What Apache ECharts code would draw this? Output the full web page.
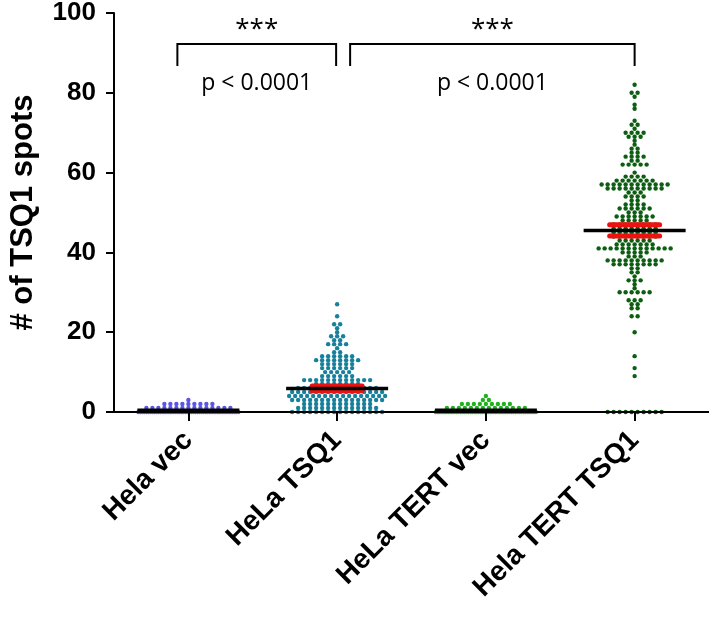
<!DOCTYPE html>
<html>
<head>
<meta charset="utf-8">
<script src="https://cdn.jsdelivr.net/npm/echarts@6/dist/echarts.min.js"></script>
<style>
  html, body { margin: 0; padding: 0; background: #fff; }
  #chart { width: 709px; height: 621px; }
</style>
</head>
<body>
<div id="chart"></div>
<script>
// groups on the x axis
const groups = ['Hela vec', 'HeLa TSQ1', 'HeLa TERT vec', 'Hela TERT TSQ1'];
const groupColors = ['#5a55e8', '#19809c', '#1fb21f', '#0d5e12'];

// spots per cell, kept as value -> number of cells with that value
const helaVecValues = [0, 1, 2, 3];
const helaVecCounts = [50, 15, 9, 1];

const helaTsq1Values = [0, 1, 2, 3, 4, 5, 6, 7, 8, 9, 10, 11, 12, 13, 14, 15, 16, 17, 18, 19, 20, 21, 22, 24, 27];
const helaTsq1Counts = [16, 14, 12, 16, 17, 16, 14, 8, 12, 6, 5, 6, 6, 8, 6, 2, 1, 4, 2, 3, 1, 1, 2, 1, 1];

const tertVecValues = [0, 1, 2, 3, 4];
const tertVecCounts = [50, 14, 9, 2, 1];

const tertTsq1Values = [0, 9, 11, 14, 20, 24, 26, 27, 28, 30, 31, 32, 33, 34, 35, 36, 37, 38, 39, 40,
  41, 42, 43, 44, 45, 46, 47, 48, 49, 50, 51, 52, 53, 54, 55, 56, 57, 58, 59, 60,
  62, 63, 64, 65, 66, 67, 68, 69, 70, 71, 72, 73, 76, 77, 79, 80, 82];
const tertTsq1Counts = [10, 1, 1, 1, 1, 2, 2, 2, 3, 6, 1, 1, 3, 1, 2, 2, 8, 10, 3, 5,
  13, 7, 6, 8, 8, 8, 8, 5, 7, 3, 6, 4, 2, 4, 3, 10, 12, 7, 4, 1,
  5, 2, 4, 2, 2, 1, 1, 3, 4, 1, 2, 1, 1, 1, 1, 2, 1];

// mean and SEM per group
const means = [0.45, 5.9, 0.45, 45.5];
const sems = [0, 0.6, 0, 1.4];

// significance brackets: from group, to group, label
const bracketFrom = [0, 1];
const bracketTo = [1, 3];
const bracketStars = ['***', '***'];
const bracketP = ['p < 0.0001', 'p < 0.0001'];

const yTicks = [0, 20, 40, 60, 80, 100];

const groupValues = [helaVecValues, helaTsq1Values, tertVecValues, tertTsq1Values];
const groupCounts = [helaVecCounts, helaTsq1Counts, tertVecCounts, tertTsq1Counts];

// scatter layout: each value is one row, dots side by side, row at most 100px wide
const DOT_GAP = 6;
const ROW_MAX = 100;
function swarm(gi) {
  const out = [];
  groupValues[gi].forEach((v, k) => {
    const n = groupCounts[gi][k];
    const gap = n > 1 ? Math.min(DOT_GAP, ROW_MAX / (n - 1)) : 0;
    for (let i = 0; i < n; i++) {
      out.push([gi, v, (i - (n - 1) / 2) * gap]);
    }
  });
  return out;
}

const chart = echarts.init(document.getElementById('chart'));

const dotSeries = groups.map((g, gi) => ({
  type: 'custom',
  name: g,
  data: swarm(gi),
  encode: { x: 0, y: 1 },
  z: 2,
  renderItem: function (params, api) {
    const p = api.coord([api.value(0), api.value(1)]);
    return {
      type: 'circle',
      shape: { cx: p[0] + api.value(2), cy: p[1], r: 2.2 },
      style: { fill: groupColors[gi] }
    };
  }
}));

const option = {
  backgroundColor: '#fff',
  animation: false,
  grid: { left: 108, right: -2, top: 13, bottom: 209, containLabel: false },
  xAxis: {
    type: 'category',
    data: groups,
    z: 5,
    axisLine: { show: true, lineStyle: { color: '#000', width: 2 } },
    axisTick: { show: true, alignWithLabel: true, length: 9, lineStyle: { color: '#000', width: 2 } },
    axisLabel: {
      interval: 0,
      rotate: 45,
      margin: 24,
      color: '#000',
      fontFamily: 'Liberation Sans, Arial',
      fontWeight: 'bold',
      fontSize: 28
    },
    splitLine: { show: false }
  },
  yAxis: {
    type: 'value',
    min: yTicks[0],
    max: yTicks[yTicks.length - 1],
    interval: 20,
    z: 5,
    name: '# of TSQ1 spots',
    nameLocation: 'middle',
    nameGap: 75,
    nameTextStyle: {
      color: '#000',
      fontFamily: 'Liberation Sans, Arial',
      fontWeight: 'bold',
      fontSize: 31
    },
    axisLine: { show: true, lineStyle: { color: '#000', width: 2 } },
    axisTick: { show: true, length: 8, lineStyle: { color: '#000', width: 2 } },
    axisLabel: {
      margin: 18,
      color: '#000',
      fontFamily: 'Liberation Sans, Arial',
      fontWeight: 'bold',
      fontSize: 26
    },
    splitLine: { show: false }
  },
  series: dotSeries.concat([
    {
      // mean line with SEM caps
      type: 'custom',
      data: means.map((m, i) => [i, m, sems[i]]),
      encode: { x: 0, y: 1 },
      z: 3,
      renderItem: function (params, api) {
        const x = api.value(0), m = api.value(1), s = api.value(2);
        const c = api.coord([x, m]);
        const kids = [];
        if (s > 0) {
          [m + s, m - s].forEach(v => {
            const q = api.coord([x, v]);
            kids.push({
              type: 'line',
              shape: { x1: q[0] - 25, y1: q[1], x2: q[0] + 25, y2: q[1] },
              style: { stroke: '#ee1111', lineWidth: 5, lineCap: 'round' }
            });
          });
        }
        kids.push({
          type: 'line',
          shape: { x1: c[0] - 51, y1: c[1], x2: c[0] + 51, y2: c[1] },
          style: { stroke: '#000', lineWidth: 3.5 }
        });
        return { type: 'group', children: kids };
      }
    },
    {
      // significance brackets
      type: 'custom',
      data: bracketFrom.map((f, i) => [f, bracketTo[i], i]),
      encode: { x: [0, 1] },
      z: 4,
      renderItem: function (params, api) {
        const i = api.value(2);
        const a = api.coord([api.value(0), 92.2]);
        const b = api.coord([api.value(1), 92.2]);
        const low = api.coord([api.value(0), 86.7]);
        const x1 = a[0] + (i === 0 ? -11 : 13);
        const x2 = b[0] + (i === 0 ? -1 : 0);
        const mid = (x1 + x2) / 2;
        const star = api.coord([api.value(0), 95.8]);
        const pTxt = api.coord([api.value(0), 82.4]);
        return {
          type: 'group',
          children: [
            {
              type: 'polyline',
              shape: { points: [[x1, low[1]], [x1, a[1]], [x2, a[1]], [x2, low[1]]] },
              style: { stroke: '#000', lineWidth: 2, fill: null }
            },
            {
              type: 'text',
              style: {
                x: mid, y: star[1], text: bracketStars[i], align: 'center', verticalAlign: 'middle',
                fontFamily: 'Open Sans', fontSize: 26, fill: '#000'
              }
            },
            {
              type: 'text',
              style: {
                x: mid, y: pTxt[1], text: bracketP[i], align: 'center', verticalAlign: 'middle',
                fontFamily: 'Open Sans', fontSize: 23, fill: '#000'
              }
            }
          ]
        };
      }
    }
  ])
};

chart.setOption(option);
</script>
</body>
</html>
